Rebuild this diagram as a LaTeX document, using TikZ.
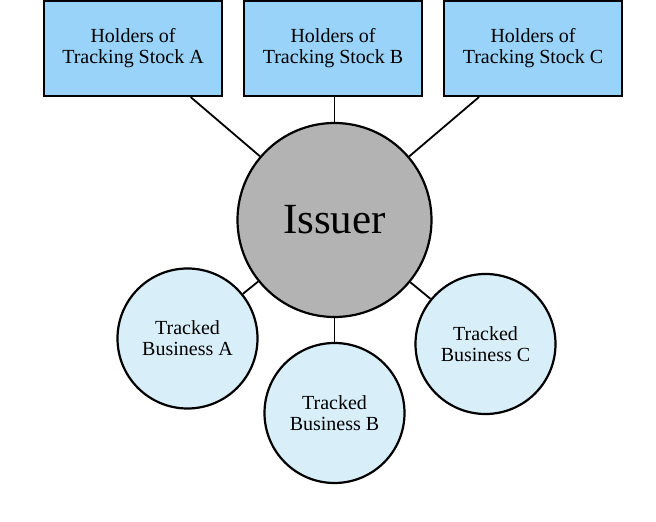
\documentclass[tikz,border=0pt]{standalone}
\usepackage{fontspec}
\setmainfont{Liberation Serif}
\usepackage{tikz}
\usetikzlibrary{positioning, calc}

\definecolor{holderblue}{HTML}{99D3F9}
\definecolor{trackblue}{HTML}{D8EEF8}
\definecolor{issuergray}{HTML}{B3B3B3}

\tikzset{
    holder/.style={draw=black, line width=2.2pt, fill=holderblue, minimum width=178pt,
        minimum height=95pt, align=center, font=\fontsize{20}{21}\selectfont},
    tracked/.style={draw=black, line width=2.2pt, fill=trackblue, circle, minimum size=140pt,
        inner sep=0pt, align=center, font=\fontsize{20}{21}\selectfont},
    link/.style={line width=1.8pt, black}
}

\begin{document}
\begin{tikzpicture}[x=1pt, y=1pt]
    % Canvas
    \useasboundingbox (0,0) rectangle (656,522);

    % Issuer
    \node[draw=black, line width=2.2pt, fill=issuergray, circle, minimum size=194pt,
        inner sep=0pt, font=\fontsize{43}{48}\selectfont] (issuer) at (334.5,302) {Issuer};

    % Holders of tracking stock
    \node[holder] (holdA) at (133,473.5) {Holders of\\Tracking Stock A};
    \node[holder] (holdB) at (333,473.5) {Holders of\\Tracking Stock B};
    \node[holder] (holdC) at (533,473.5) {Holders of\\Tracking Stock C};

    % Tracked businesses
    \node[tracked] (busA) at (187.5,183.5) {Tracked\\Business A};
    \node[tracked] (busB) at (334.5,109) {Tracked\\Business B};
    \node[tracked] (busC) at (485.5,178) {Tracked\\Business C};

    % Feet of the links on the boxes
    \coordinate (footA) at ($(holdA.south)!0.64!(holdA.south east)$);
    \coordinate (footC) at ($(holdC.south)!0.6!(holdC.south west)$);

    % Links
    \draw[link] (issuer) -- (footA);
    \draw[link] (issuer.north) -- (issuer.north |- holdB.south);
    \draw[link] (issuer) -- (footC);
    \draw[link] (issuer) -- (busA);
    \draw[link] (issuer) -- (busB);
    \draw[link] (issuer) -- (busC);

\end{tikzpicture}
\end{document}
